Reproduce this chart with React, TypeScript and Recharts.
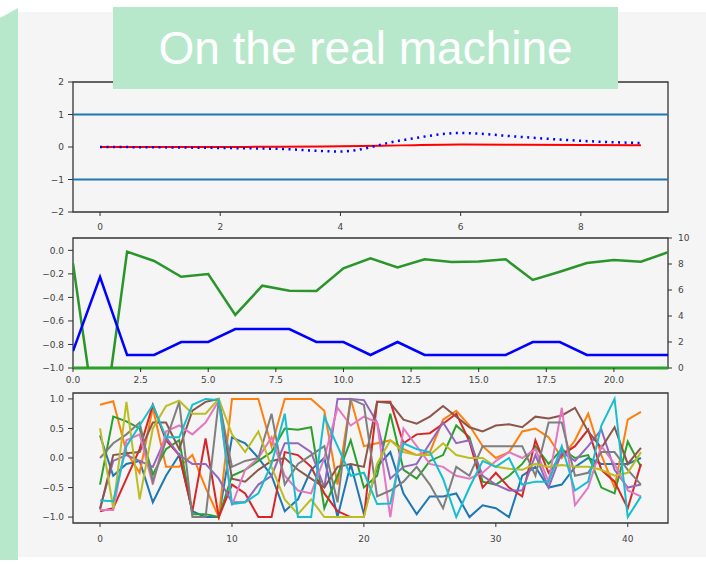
import { LineChart, Line, XAxis, YAxis, ReferenceLine, ReferenceArea } from "recharts";

// top panel: two traces against x = 0..9, plus bounds at +/-1
const p1X = [0, 1, 2, 3, 4, 5, 6, 7, 8, 9];
const p1Red = [0, 0, 0, 0.01, 0.02, 0.05, 0.08, 0.07, 0.06, 0.05];
const p1Blue = [0, -0.01, -0.03, -0.06, -0.14, 0.2, 0.43, 0.31, 0.19, 0.12];
const p1XTicks = [0, 2, 4, 6, 8];
const p1YTicks = [-2, -1, 0, 1, 2];

// middle panel: values on the 0..10 right-hand scale
const p2X = [0, 1, 2, 3, 4, 5, 6, 7, 8, 9, 10, 11, 12, 13, 14, 15, 16, 17, 18, 19, 20, 21, 22];
const p2Green = [8.05, -6.5, 8.95, 8.23, 7.02, 7.23, 4.08, 6.33, 5.95, 5.92, 7.67, 8.44, 7.74, 8.36, 8.15, 8.2, 8.36, 6.77, 7.4, 8.08, 8.3, 8.18, 8.9];
const p2Blue = [1.3, 7.0, 1, 1, 2, 2, 3, 3, 3, 2, 2, 1, 2, 1, 1, 1, 1, 2, 2, 1, 1, 1, 1];
const p2XTicks = [0, 2.5, 5, 7.5, 10, 12.5, 15, 17.5, 20];
const p2LeftTicks = [-1, -0.8, -0.6, -0.4, -0.2, 0];
const p2RightTicks = [0, 2, 4, 6, 8, 10];

// bottom panel: ten traces over 42 steps
const p3X = Array.from({ length: 42 }, (_, i) => i);
const c0 = [0.38, -0.3, -0.1, -0.05, -0.75, -0.3, 0.05, -0.9, -1.0, -1.0, 0.35, 0.25, 0.0, -0.3, -0.9, -0.7, -0.2, 0.0, -1.0, -0.1, -0.95, -0.15, 0.1, -0.6, -0.95, -0.65, -0.65, -0.6, -1.0, -0.8, -0.85, -1.0, -0.3, -0.15, -0.5, -0.45, -0.15, 0.0, -0.1, -0.1, -0.1, 0.0];
const c1 = [0.9, 0.96, 0.1, -0.25, 0.85, -0.15, -0.15, 0.05, -0.5, -1.0, 1.0, 1.0, 1.0, 0.2, 1.0, 1.0, 1.0, 0.8, -0.45, 1.0, 0.2, 0.25, 0.3, 0.15, 0.05, 0.1, 0.65, 0.8, 0.55, 0.2, 0.0, 0.1, 0.45, 0.5, 0.35, 0.0, 0.3, 0.75, 0.05, -0.5, 0.65, 0.78];
const c2 = [-0.45, 0.7, 0.62, 0.5, -0.28, 0.15, 0.3, -0.95, -0.95, -1.0, -0.3, -0.2, -0.05, 0.1, 0.5, 0.48, 0.52, -0.85, -0.3, 0.3, -0.5, -0.3, 0.75, -0.2, -0.35, -0.05, 0.05, 0.55, 0.35, -0.4, -0.45, -0.3, -0.1, 0.2, -0.1, 0.15, 0.0, 0.05, -0.5, -0.6, 0.28, -0.15];
const c3 = [-0.9, -0.85, -0.35, 0.15, 0.9, 0.3, 0.05, -0.9, 0.33, -1.0, -0.45, -0.6, -1.0, -1.0, 0.1, 0.05, -0.15, -0.6, -0.9, -1.0, -1.0, 0.95, 0.95, 0.25, 0.4, 0.42, 0.58, 0.75, 0.28, -0.5, -0.25, -0.5, -0.65, 0.3, -0.25, 0.05, 0.2, 0.48, -0.2, -0.4, -0.85, -0.1];
const c4 = [-0.85, -0.05, 0.05, -0.05, -0.15, 0.35, 0.05, -0.1, -0.1, -0.35, -0.75, -0.75, -0.45, -0.3, 0.25, 0.25, 0.1, -0.5, 1.0, 1.0, 0.98, 0.6, -0.35, -0.15, -0.1, 0.25, 0.6, 0.25, 0.3, -0.3, -0.45, -0.55, -0.55, 0.05, -0.5, 0.1, -0.05, 0.2, 0.48, -0.2, -0.5, -0.45];
const c5 = [-0.87, 0.05, 0.08, 0.1, 0.6, 0.6, 0.15, 0.8, 0.95, 1.0, -0.35, -0.4, -0.2, -0.05, 0.0, -0.2, -0.35, -0.5, -0.15, -0.1, -0.15, 0.95, 0.93, 0.65, 0.58, 0.7, 0.88, 0.7, 0.52, 0.45, 0.55, 0.57, 0.52, 0.7, 0.67, 0.72, 0.85, 0.45, 0.17, 0.52, -0.1, 0.17];
const c6 = [-0.88, -0.88, 0.3, 0.4, -0.45, 0.45, 0.55, 0.4, 0.6, 0.97, -0.8, -0.2, 0.0, 0.35, -0.3, -0.55, -0.6, 0.0, 0.85, 0.55, 0.7, 0.6, -1.0, 0.5, 0.2, -0.1, -0.15, -0.3, -0.35, -0.25, -0.05, 0.1, 0.0, 0.15, -0.4, 0.85, -0.8, -0.5, 0.2, -0.1, -0.55, -0.65];
const c7 = [0.0, 0.25, 0.4, 0.6, -0.4, 0.3, 0.95, -1.0, -1.0, 0.98, -0.15, -0.05, 0.0, 0.75, -0.45, -0.1, 0.05, 0.2, -0.75, 1.0, 0.9, -0.65, -0.55, -0.4, -0.15, -0.45, -0.85, -0.15, -0.3, 0.2, 0.2, 0.2, 0.2, -0.3, 0.6, 0.6, -0.3, -0.25, 0.1, 0.1, -0.2, -0.45];
const c8 = [0.5, -0.85, 0.95, -0.7, 0.5, 0.88, 0.97, 0.75, 0.75, 1.0, 0.4, 0.1, 0.45, -0.15, -0.7, -0.95, -0.7, -1.0, -1.0, -1.0, -1.0, -0.1, 0.3, 0.1, 0.05, 0.05, 0.25, 0.05, 0.0, 0.0, -0.15, -0.18, -0.2, -0.1, -0.15, -0.12, -0.15, -0.15, -0.2, -0.3, -0.25, 0.1];
const c9 = [-0.72, -0.73, 0.2, 0.55, 0.9, 0.35, 0.35, 0.9, 1.0, 0.98, -0.78, -0.75, -0.6, -0.1, 0.75, -1.0, -1.0, 0.7, 0.2, -0.3, -0.25, -0.78, -0.77, 0.25, 0.15, 0.1, -0.35, -1.0, -0.5, -0.05, -0.15, 0.0, -0.45, -0.4, -0.4, 0.2, -0.55, -0.4, 0.55, 1.0, -1.0, -0.65];
const p3Series = [c0, c1, c2, c3, c4, c5, c6, c7, c8, c9];
const p3Colors = ["#1f77b4", "#ff7f0e", "#2ca02c", "#d62728", "#9467bd", "#8c564b", "#e377c2", "#7f7f7f", "#bcbd22", "#17becf"];
const p3XTicks = [0, 10, 20, 30, 40];
const p3YTicks = [-1, -0.5, 0, 0.5, 1];

const W = 706;
const H = 564;
const tick = { fontSize: 9, fill: "#444", fontFamily: "DejaVu Sans" };
const tickLine = { stroke: "#333" };
const frame = "#333";

const fmt1 = (v: number) => (v < 0 ? "\u2212" + Math.abs(v).toFixed(1) : v.toFixed(1));
const fmt0 = (v: number) => (v < 0 ? "\u2212" + Math.abs(v) : String(v));

const layer: React.CSSProperties = { position: "absolute", left: 0, top: 0 };

export default function App() {
  const p1Data = p1X.map((x, i) => ({ x, red: p1Red[i], blue: p1Blue[i] }));
  const p2Data = p2X.map((x, i) => ({ x, green: p2Green[i], blue: p2Blue[i] }));
  const p3Data = p3X.map((x, i) => {
    const row: Record<string, number> = { x };
    p3Series.forEach((s, k) => (row["s" + k] = s[i]));
    return row;
  });

  return (
    <div style={{ position: "absolute", left: 0, top: 0, width: W, height: H, background: "#fff", overflow: "hidden" }}>
      <div style={{ position: "absolute", left: 18, top: 12, width: W - 18, height: 545, background: "#f4f5f4" }} />
      <div
        style={{
          position: "absolute", left: 0, top: 8, width: 18, height: 552, background: "#b8e8cc",
          clipPath: "polygon(0 10px, 100% 0, 100% 100%, 0 100%)",
        }}
      />

      {/* top subplot */}
      <div style={layer}>
        <LineChart width={W} height={H} data={p1Data} margin={{ top: 82, right: 38, left: 43, bottom: 327 }}>
          <XAxis dataKey="x" type="number" domain={[-0.45, 9.45]} ticks={p1XTicks} height={25}
            axisLine={false} tickLine={tickLine} tickSize={4} tickMargin={8} tick={tick} allowDataOverflow />
          <YAxis type="number" domain={[-2, 2]} ticks={p1YTicks} width={30} tickFormatter={fmt0}
            axisLine={false} tickLine={tickLine} tickSize={5} tickMargin={4} tick={tick} allowDataOverflow />
          <ReferenceArea x1={-0.45} x2={9.45} y1={-2} y2={2} fill="none" stroke={frame} strokeWidth={1.3} />
          <ReferenceLine y={1} stroke="#1f77b4" strokeWidth={2} />
          <ReferenceLine y={-1} stroke="#1f77b4" strokeWidth={2} />
          <Line dataKey="red" type="monotone" stroke="#ff0000" strokeWidth={2} dot={false} isAnimationActive={false} />
          <Line dataKey="blue" type="monotone" stroke="#0000ff" strokeWidth={2.5} strokeDasharray="2 4.5"
            dot={false} isAnimationActive={false} />
        </LineChart>
      </div>

      {/* middle subplot, twin y axes */}
      <div style={layer}>
        <LineChart width={W} height={H} data={p2Data} margin={{ top: 238, right: 8, left: 43, bottom: 171 }}>
          <XAxis dataKey="x" type="number" domain={[0, 22]} ticks={p2XTicks} height={25} tickFormatter={fmt1}
            axisLine={false} tickLine={tickLine} tickSize={4} tickMargin={5} tick={tick} allowDataOverflow />
          <YAxis yAxisId="left" type="number" domain={[-1, 0.105]} ticks={p2LeftTicks} width={30} tickFormatter={fmt1}
            axisLine={false} tickLine={tickLine} tickSize={5} tickMargin={4} tick={tick} allowDataOverflow />
          <YAxis yAxisId="right" orientation="right" type="number" domain={[0, 10]} ticks={p2RightTicks} width={30}
            axisLine={false} tickLine={tickLine} tickSize={4} tickMargin={6} tick={tick} allowDataOverflow />
          <ReferenceArea yAxisId="right" x1={0} x2={22} y1={0} y2={10} fill="none" stroke={frame} strokeWidth={1.3} />
          <ReferenceLine yAxisId="left" y={-1} stroke="#2ca02c" strokeWidth={3} />
          <Line yAxisId="right" dataKey="green" type="linear" stroke="#2a952a" strokeWidth={2.5} dot={false} isAnimationActive={false} />
          <Line yAxisId="right" dataKey="blue" type="linear" stroke="#0000ff" strokeWidth={2.5} dot={false} isAnimationActive={false} />
        </LineChart>
      </div>

      {/* bottom subplot */}
      <div style={layer}>
        <LineChart width={W} height={H} data={p3Data} margin={{ top: 393, right: 38, left: 43, bottom: 16 }}>
          <XAxis dataKey="x" type="number" domain={[-2.05, 43.05]} ticks={p3XTicks} height={25}
            axisLine={false} tickLine={tickLine} tickSize={4} tickMargin={9} tick={tick} allowDataOverflow />
          <YAxis type="number" domain={[-1.1, 1.1]} ticks={p3YTicks} width={30} tickFormatter={fmt1}
            axisLine={false} tickLine={tickLine} tickSize={5} tickMargin={4} tick={tick} allowDataOverflow />
          <ReferenceArea x1={-2.05} x2={43.05} y1={-1.1} y2={1.1} fill="none" stroke={frame} strokeWidth={1.3} />
          {p3Series.map((_, k) => (
            <Line key={k} dataKey={"s" + k} type="linear" stroke={p3Colors[k]} strokeWidth={2}
              dot={false} isAnimationActive={false} />
          ))}
        </LineChart>
      </div>

      <div
        style={{
          position: "absolute", left: 113, top: 7, width: 505, height: 82, background: "#b8e8cc",
          color: "#fff", fontFamily: "Liberation Sans", fontSize: 46, lineHeight: "82px", textAlign: "center",
        }}
      >
        On the real machine
      </div>
    </div>
  );
}
